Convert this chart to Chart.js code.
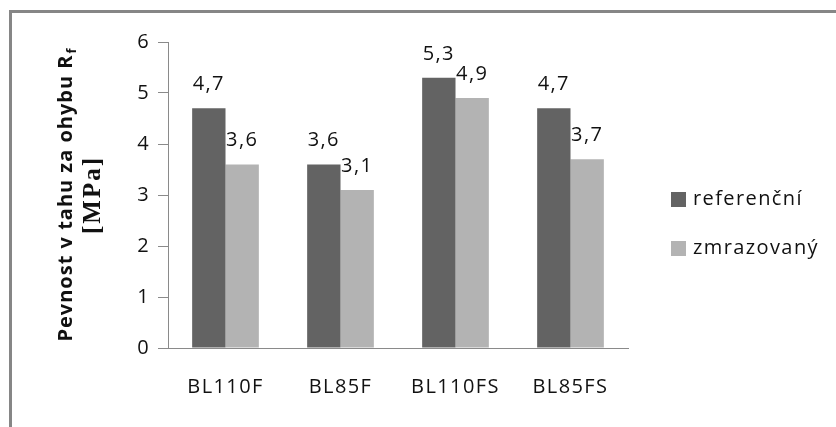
<!DOCTYPE html>
<html>
<head>
<meta charset="utf-8">
<script src="https://cdn.jsdelivr.net/npm/chart.js@4/dist/chart.umd.min.js"></script>
<style>
  html, body { margin: 0; padding: 0; background: #fff; }
  #wrap { width: 836px; height: 427px; position: relative; }
</style>
</head>
<body>
<div id="wrap"><canvas id="c" width="836" height="427"></canvas></div>
<script>
// Flexural strength of the mixes, reference vs. frozen specimens
const categories = ['BL110F', 'BL85F', 'BL110FS', 'BL85FS'];
const referencni = [4.7, 3.6, 5.3, 4.7];
const zmrazovany = [3.6, 3.1, 4.9, 3.7];
const seriesNames = ['referenční', 'zmrazovaný'];
const yTicks = [0, 1, 2, 3, 4, 5, 6];

const FONT = '"Open Sans", "Liberation Sans", sans-serif';
const TEXT = '#111';
const AXIS = '#8a8a8a';
const SPACING = '1.4px';

// Frame around the whole chart (only left and top edges fall inside the canvas);
// also sets the slightly open letter spacing used by all text
const framePlugin = {
  id: 'frame',
  beforeDraw(chart) {
    const ctx = chart.ctx;
    ctx.letterSpacing = SPACING;
    ctx.save();
    ctx.strokeStyle = '#868686';
    ctx.lineWidth = 3;
    ctx.beginPath();
    ctx.moveTo(10.5, chart.height + 5);
    ctx.lineTo(10.5, 11.5);
    ctx.lineTo(chart.width + 5, 11.5);
    ctx.stroke();
    ctx.restore();
  }
};

// Value labels above each bar, written with a decimal comma
const valueLabels = {
  id: 'valueLabels',
  afterDatasetsDraw(chart) {
    const ctx = chart.ctx;
    ctx.save();
    ctx.font = '20px ' + FONT;
    ctx.fillStyle = TEXT;
    ctx.textAlign = 'center';
    ctx.textBaseline = 'alphabetic';
    chart.data.datasets.forEach((ds, i) => {
      chart.getDatasetMeta(i).data.forEach((bar, j) => {
        const txt = ds.data[j].toFixed(1).replace('.', ',');
        ctx.fillText(txt, bar.x, bar.y - 18);
      });
    });
    ctx.restore();
  }
};

// Rotated y-axis title: sans line with subscript, serif unit line
const yTitle = {
  id: 'yTitle',
  afterDraw(chart) {
    const ctx = chart.ctx;
    const a = chart.chartArea;
    const cy = (a.top + a.bottom) / 2;
    ctx.save();
    ctx.fillStyle = TEXT;
    ctx.textBaseline = 'alphabetic';
    // first line
    ctx.save();
    ctx.translate(72, cy);
    ctx.rotate(-Math.PI / 2);
    ctx.letterSpacing = '1px';
    const main = 'Pevnost v tahu za ohybu R';
    const sub = 'f';
    ctx.font = 'bold 20px ' + FONT;
    const w1 = ctx.measureText(main).width;
    ctx.font = 'bold 13px ' + FONT;
    const w2 = ctx.measureText(sub).width;
    const x0 = -(w1 + w2) / 2;
    ctx.font = 'bold 20px ' + FONT;
    ctx.textAlign = 'left';
    ctx.fillText(main, x0, 0);
    ctx.font = 'bold 13px ' + FONT;
    ctx.fillText(sub, x0 + w1 + 1, 4);
    ctx.restore();
    // second line
    ctx.save();
    ctx.translate(100, cy);
    ctx.rotate(-Math.PI / 2);
    ctx.letterSpacing = '2px';
    ctx.font = 'bold 25px "Liberation Serif", "DejaVu Serif", serif';
    ctx.textAlign = 'center';
    ctx.fillText('[MPa]', 0, 0);
    ctx.restore();
    ctx.restore();
  }
};

// Legend on the right
const sideLegend = {
  id: 'sideLegend',
  afterDraw(chart) {
    const ctx = chart.ctx;
    ctx.save();
    ctx.font = '20px ' + FONT;
    ctx.textBaseline = 'middle';
    ctx.textAlign = 'left';
    chart.data.datasets.forEach((ds, i) => {
      const y = 199 + i * 49;
      ctx.fillStyle = ds.backgroundColor;
      ctx.fillRect(671, y - 7, 15, 15);
      ctx.fillStyle = TEXT;
      ctx.fillText(ds.label, 693, y);
    });
    ctx.restore();
  }
};

new Chart(document.getElementById('c'), {
  type: 'bar',
  data: {
    labels: categories,
    datasets: [
      { label: seriesNames[0], data: referencni, backgroundColor: '#636363' },
      { label: seriesNames[1], data: zmrazovany, backgroundColor: '#b3b3b3' }
    ]
  },
  options: {
    responsive: false,
    animation: false,
    events: [],
    layout: { padding: { left: 0, top: 42, right: 208, bottom: 0 } },
    datasets: { bar: { categoryPercentage: 0.58, barPercentage: 1.0 } },
    plugins: { legend: { display: false }, tooltip: { enabled: false } },
    scales: {
      x: {
        grid: { display: true, drawOnChartArea: false, drawTicks: false },
        border: { display: true, color: AXIS, width: 1 },
        ticks: { color: TEXT, font: { family: FONT, size: 20 }, padding: 27 },
        afterFit(s) { s.height = 79; }
      },
      y: {
        min: 0, max: 6,
        afterBuildTicks(s) { s.ticks = yTicks.map(v => ({ value: v })); },
        grid: { display: true, drawOnChartArea: false, drawTicks: true, tickLength: 10, color: AXIS },
        border: { display: true, color: AXIS, width: 1 },
        ticks: { color: TEXT, font: { family: FONT, size: 20 }, padding: 8 },
        afterFit(s) { s.width = 168; }
      }
    }
  },
  plugins: [framePlugin, valueLabels, yTitle, sideLegend]
});
</script>
</body>
</html>
